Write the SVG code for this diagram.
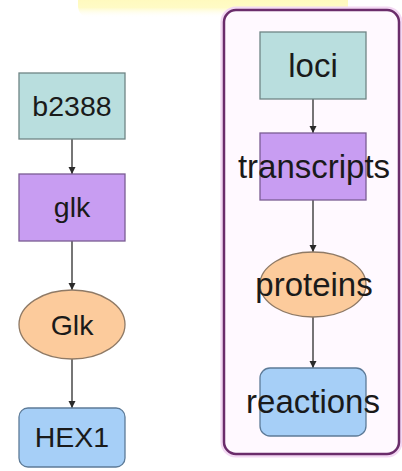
<svg xmlns="http://www.w3.org/2000/svg" width="402" height="471" viewBox="0 0 402 471">
  <style>
    .lbl { font-family: "Liberation Sans", Arial, sans-serif; fill: #1a1a1a; text-anchor: middle; }
    .left { font-size: 28.5px; }
    .right { font-size: 33px; }
    .gene { fill: #b9dede; stroke: #6f8585; stroke-width: 1.3; }
    .rna { fill: #c89df2; stroke: #7a5c93; stroke-width: 1.3; }
    .prot { fill: #fccb9c; stroke: #8f7a66; stroke-width: 1.3; }
    .rxn { fill: #a6cff7; stroke: #5d7b98; stroke-width: 1.3; }
    .edge { stroke: #3c3c3c; stroke-width: 1.4; fill: none; marker-end: url(#arrow); }
  </style>
  <defs>
    <marker id="arrow" viewBox="0 0 10 10" refX="10" refY="5" markerWidth="7" markerHeight="8" markerUnits="userSpaceOnUse" orient="auto">
      <path d="M0,0 L10,5 L0,10 Z" fill="#2a2a2a"/>
    </marker>
    <linearGradient id="band" x1="0" y1="0" x2="0" y2="1">
      <stop offset="0" stop-color="#fff6a6"/>
      <stop offset="0.75" stop-color="#fffbc6"/>
      <stop offset="1" stop-color="#ffffff" stop-opacity="0"/>
    </linearGradient>
  </defs>

  <rect width="402" height="471" fill="#ffffff"/>

  <!-- title band at the top edge -->
  <rect x="78" y="-24" width="270" height="42" rx="12" fill="url(#band)"/>

  <!-- generic schema container -->
  <g id="schema">
    <rect x="222" y="8" width="179" height="448" rx="14" fill="none" stroke="#f3d8f3" stroke-width="3"/>
    <rect x="224" y="10" width="175" height="444" rx="12" fill="#fff9ff" stroke="#6b2d6b" stroke-width="2.5"/>
  </g>

  <!-- connectors -->
  <g id="connectors">
    <line class="edge" x1="72" y1="139" x2="72" y2="174"/>
    <line class="edge" x1="72" y1="241" x2="72" y2="290"/>
    <line class="edge" x1="72" y1="359" x2="72" y2="408"/>
    <line class="edge" x1="313" y1="99" x2="313" y2="133"/>
    <line class="edge" x1="313" y1="200" x2="313" y2="252"/>
    <line class="edge" x1="313" y1="317" x2="313" y2="368"/>
  </g>

  <!-- example instance chain -->
  <g id="b2388">
    <rect class="gene" x="19" y="73" width="106" height="66"/>
    <text class="lbl left" x="72" y="116">b2388</text>
  </g>
  <g id="glk">
    <rect class="rna" x="19" y="174" width="106" height="67"/>
    <text class="lbl left" x="72" y="217">glk</text>
  </g>
  <g id="Glk">
    <ellipse class="prot" cx="72" cy="324.5" rx="53" ry="34.5"/>
    <text class="lbl left" x="72" y="334.5">Glk</text>
  </g>
  <g id="HEX1">
    <rect class="rxn" x="19" y="408" width="106" height="59" rx="9"/>
    <text class="lbl left" x="72" y="447">HEX1</text>
  </g>

  <!-- generic type chain -->
  <g id="loci">
    <rect class="gene" x="260" y="32" width="106" height="67"/>
    <text class="lbl right" x="313" y="77">loci</text>
  </g>
  <g id="transcripts">
    <rect class="rna" x="260" y="133" width="106" height="67"/>
    <text class="lbl right" x="314" y="178">transcripts</text>
  </g>
  <g id="proteins">
    <ellipse class="prot" cx="313" cy="284.5" rx="53" ry="32.5"/>
    <text class="lbl right" x="314" y="296">proteins</text>
  </g>
  <g id="reactions">
    <rect class="rxn" x="260" y="368" width="106" height="68" rx="10"/>
    <text class="lbl right" x="313" y="413">reactions</text>
  </g>
</svg>
